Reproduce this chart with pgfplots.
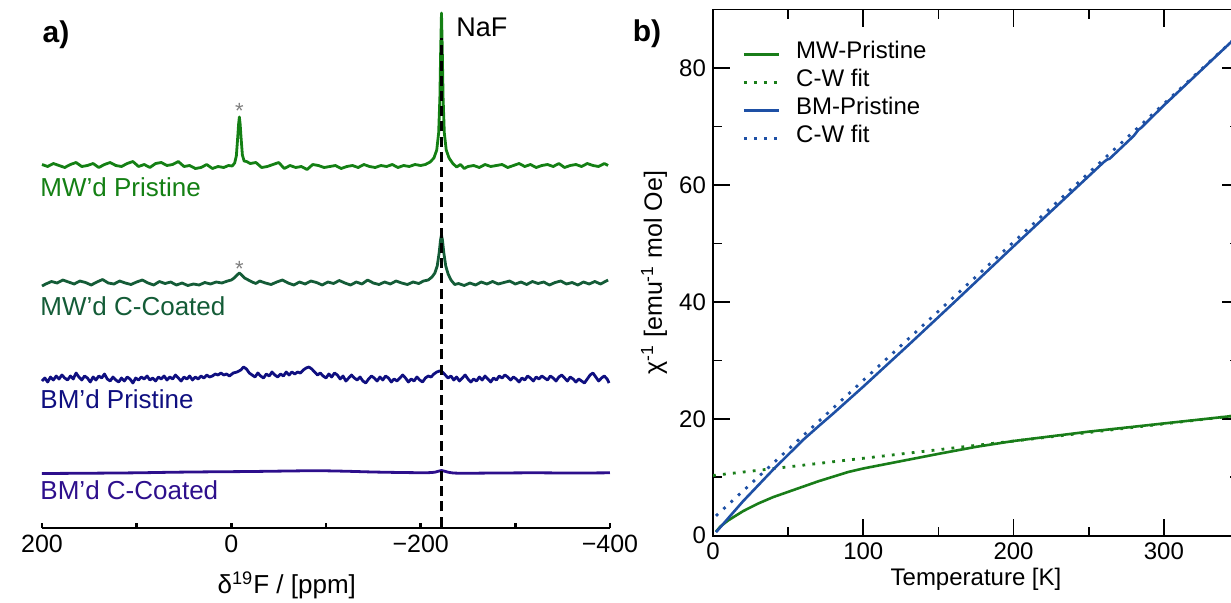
\documentclass[border=0pt]{standalone}
\usepackage{fontspec}
\setmainfont{Liberation Sans}
\usepackage{pgfplots}
\pgfplotsset{compat=1.18}
\definecolor{gA}{RGB}{20,128,20}
\definecolor{gB}{RGB}{20,92,55}
\definecolor{nA}{RGB}{15,15,128}
\definecolor{nB}{RGB}{45,15,140}
\definecolor{gr}{RGB}{25,125,25}
\definecolor{bl}{RGB}{30,80,165}
\begin{document}
\begin{tikzpicture}[x=1pt,y=1pt]
\path[use as bounding box] (0,0) rectangle (615.5,301);
\node[font=\fontsize{15}{17}\selectfont\bfseries] at (28,283.5) {a)};
\node[font=\fontsize{15}{17}\selectfont\bfseries] at (323.5,284) {b)};
% ---------------- panel a
\begin{axis}[at={(21pt,37pt)}, anchor=south west, scale only axis,
  width=284pt, height=264pt,
  xmin=-400, xmax=200, x dir=reverse, ymin=0, ymax=528,
  axis x line=bottom, axis y line=none,
  x axis line style={-, line width=1.2pt},
  xtick={200,100,0,-100,-200,-300,-400},
  xticklabels={200,{},0,{},−200,{},−400},
  tick align=inside, major tick length=2.4pt,
  every tick/.style={black, line width=1.2pt},
  tick label style={font=\fontsize{12.5}{14}\selectfont},
  xlabel={δ\textsuperscript{19}F / [ppm]},
  xlabel style={at={(axis description cs:0.431,-0.108)}, anchor=center, font=\fontsize{13}{15}\selectfont},
  clip=false]
\addplot[gA, line width=1.4pt, line join=round] coordinates {
(200,363.5) (194,361.5) (188,364.5) (182,362.5) (176,360.5) (170,363.5) (164,365.5) (158,361.5) (152,362.5) (146,364.5) (140,360.5) (134,363.5) (128,365.5) (122,362.5) (116,361.5) (110,364.5) (104,366.5) (98,361.5) (92,363.5) (86,360.5) (80,364.5) (74,365.5) (68,362.5) (62,363.5) (56,366.5) (50,361.5) (44,362.5) (38,359.5) (32,360.5) (26,363.5) (20,359.5) (14,361.5) (8,360.5) (3,362.5)
(-1,362) (-3.5,365) (-5.3,372) (-6.7,390) (-7.7,404) (-8.5,411) (-9.3,404) (-10.3,390) (-11.7,373) (-13.5,367) (-16,366.5)
(-20,364.5) (-26,365.5) (-32,360.5) (-38,361.5) (-44,363.5) (-50,365.5) (-56,359.5) (-62,362.5) (-68,360.5) (-74,361.5) (-80,358.5) (-86,363.5) (-92,362.5) (-98,360.5) (-104,361.5) (-110,362.5) (-116,359.5) (-122,361.5) (-128,362.5) (-134,360.5) (-140,363.5) (-146,361.5) (-152,360.5) (-158,362.5) (-164,361.5) (-170,363.5) (-176,360.5) (-182,362.5) (-188,361.5) (-194,363.5) (-200,362.5) (-205,363.5) (-210,366) (-214,370) (-217,378) (-219,395) (-220.3,430) (-221.2,480) (-222,515) (-222.8,480) (-223.7,430) (-225,395) (-227,378) (-230,370) (-234,364.5) (-238,361) (-242,363.5) (-246,359.5) (-250,361.5) (-256,362.5) (-262,360.5) (-268,363.5) (-274,361.5) (-280,362.5) (-286,363.5) (-292,360.5) (-298,362.5) (-304,364.5) (-310,361.5) (-316,363.5) (-322,360.5) (-328,362.5) (-334,363.5) (-340,361.5) (-346,364.5) (-352,360.5) (-358,362.5) (-364,363.5) (-370,361.5) (-376,364.5) (-382,362.5) (-388,361.5) (-394,364.5) (-398,362.5)};
\addplot[gB, line width=1.4pt, line join=round] coordinates {
(200,242) (196,244) (190,246.5) (184,245) (178,248) (172,246) (166,244) (160,247) (154,245.5) (148,243) (142,246) (136,248.5) (130,245) (124,244) (118,247) (112,245) (106,243.5) (100,246) (94,248) (88,245) (82,243) (76,246.5) (70,244.5) (64,246) (58,243) (52,245) (46,242.5) (40,244) (34,243) (28,245.5) (22,244) (16,246) (10,245) (4,247) (0,248) (-3,250) (-6,253) (-8.5,255) (-11,253) (-14,250) (-18,248) (-22,246) (-26,244.5) (-30,247) (-36,245) (-42,243.5) (-48,246) (-54,248) (-60,245) (-66,243) (-72,246) (-78,244) (-84,247) (-90,245.5) (-96,243) (-102,246) (-108,244.5) (-114,247.5) (-120,245) (-126,243) (-132,246) (-138,244) (-144,248) (-150,245) (-156,243.5) (-162,246) (-168,244) (-174,247) (-180,245) (-186,243.5) (-192,246) (-198,244.5) (-203,247) (-208,248) (-212,251) (-215,255) (-217.5,262) (-219.5,275) (-221,288) (-222,293) (-223,288) (-224.5,275) (-226.5,262) (-229,254) (-232,248) (-236,243.5) (-240,244.5) (-246,242.5) (-252,245) (-258,243) (-264,246) (-270,244) (-276,246.5) (-282,244) (-288,245.5) (-294,247) (-300,244) (-306,246) (-312,243.5) (-318,246.5) (-324,244.5) (-330,246) (-336,243) (-342,245.5) (-348,247) (-354,244) (-360,245.5) (-366,243) (-372,246) (-378,244) (-384,246.5) (-390,244) (-394,246) (-398,248)};
\addplot[nA, line width=1.4pt, line join=round] coordinates {
(200,147) (197,150) (194,146) (191,151) (188,148) (185,152) (182,149) (179,153) (176,150) (173,148) (170,152) (167,149) (164,155) (161,151) (158,148) (155,152) (152,150) (149,146) (146,151) (143,148) (140,152) (137,150) (134,154) (131,149) (128,147) (125,151) (122,148) (119,146) (116,150) (113,147) (110,151) (107,149) (104,145) (101,150) (98,148) (95,151) (92,149) (89,152) (86,148) (83,150) (80,147) (77,151) (74,149) (71,152) (68,148) (65,151) (62,149) (59,153) (56,150) (53,147) (50,151) (47,149) (44,152) (41,148) (38,151) (35,149) (32,152) (29,150) (26,153) (23,151) (20,152) (17,154) (14,153) (11,155) (8,153) (5,154) (2,152) (-2,155) (-6,156) (-10,158) (-13,161) (-16,159) (-19,155) (-22,153) (-25,151) (-28,155) (-31,152) (-34,150) (-37,154) (-40,152) (-43,156) (-46,153) (-49,151) (-52,154) (-55,152) (-58,156) (-61,153) (-64,156) (-67,154) (-70,156) (-73,155) (-76,158) (-79,160) (-82,161) (-85,159) (-88,156) (-91,153) (-94,155) (-97,152) (-100,150) (-103,154) (-106,151) (-109,155) (-112,153) (-115,149) (-118,152) (-121,147) (-124,150) (-127,153) (-130,150) (-133,148) (-136,151) (-139,147) (-142,145) (-145,149) (-148,152) (-151,150) (-154,147) (-157,151) (-160,148) (-163,152) (-166,150) (-169,146) (-172,149) (-175,147) (-178,150) (-181,153) (-184,150) (-187,146) (-190,149) (-193,147) (-196,151) (-199,148) (-202,146) (-205,150) (-208,152) (-211,151) (-214,154) (-217,156) (-220,157) (-223,156) (-226,153) (-229,150) (-232,152) (-235,148) (-238,151) (-241,147) (-244,150) (-247,153) (-250,149) (-253,146) (-256,149) (-259,147) (-262,151) (-265,148) (-268,152) (-271,149) (-274,146) (-277,150) (-280,148) (-283,152) (-286,150) (-289,153) (-292,151) (-295,148) (-298,151) (-301,149) (-304,146) (-307,150) (-310,148) (-313,152) (-316,150) (-319,147) (-322,151) (-325,149) (-328,152) (-331,150) (-334,148) (-337,152) (-340,150) (-343,147) (-346,151) (-349,153) (-352,150) (-355,147) (-358,151) (-361,149) (-364,146) (-367,149) (-370,147) (-373,145) (-376,149) (-379,153) (-382,155) (-385,151) (-388,147) (-391,150) (-394,152) (-397,149) (-399,145)};
\addplot[nB, line width=1.4pt, smooth] coordinates {
(200,54.5) (150,54.8) (100,55.2) (60,55.8) (20,56.2) (-20,56.5) (-60,57) (-90,57.3) (-120,56.8) (-150,56) (-180,55.5) (-205,55.3) (-215,55.8) (-222,57.5) (-229,55.8) (-240,54.8) (-280,55) (-320,55.2) (-360,55) (-400,55.2)};
\addplot[black, line width=1.5pt, dash pattern=on 5pt off 2.6pt] coordinates {(-221.8,1.5) (-221.8,490)};
\node[anchor=base west, inner sep=0pt, text=gA, font=\fontsize{13}{15}\selectfont] at (axis cs:202,331.3) {MW’d Pristine};
\node[anchor=base west, inner sep=0pt, text=gB, font=\fontsize{13}{15}\selectfont] at (axis cs:202,213) {MW’d C-Coated};
\node[anchor=base west, inner sep=0pt, text=nA, font=\fontsize{13}{15}\selectfont] at (axis cs:202,120) {BM’d Pristine};
\node[anchor=base west, inner sep=0pt, text=nB, font=\fontsize{13}{15}\selectfont] at (axis cs:202,29) {BM’d C-Coated};
\node[anchor=base west, inner sep=0pt, font=\fontsize{13.5}{15}\selectfont] at (axis cs:-237.2,491.3) {NaF};
\node[anchor=base, inner sep=0pt, text=gray, font=\fontsize{11}{12}\selectfont] at (axis cs:-8.5,410) {*};
\node[anchor=base, inner sep=0pt, text=gray, font=\fontsize{11}{12}\selectfont] at (axis cs:-8.5,252) {*};
\end{axis}
% ---------------- panel b
\begin{axis}[at={(356.5pt,33.15pt)}, anchor=south west, scale only axis,
  width=263pt, height=263.1pt,
  xmin=0, xmax=350, ymin=0, ymax=90,
  xtick={0,100,200,300}, ytick={0,20,40,60,80},
  minor x tick num=1, minor y tick num=1,
  tick align=inside, xtick pos=both, ytick pos=both,
  xticklabel pos=lower, yticklabel pos=lower,
  major tick length=8.5pt, minor tick length=4.5pt,
  axis line style={line width=0.8pt},
  every tick/.style={black, line width=0.8pt},
  /pgf/number format/assume math mode=true,
  tick label style={font=\fontsize{12}{14}\selectfont},
  xlabel={Temperature [K]},
  xlabel style={at={(axis description cs:0.5,-0.0836)}, anchor=center, font=\fontsize{12}{14}\selectfont},
  ylabel={χ\textsuperscript{-1} [emu\textsuperscript{-1} mol Oe]},
  ylabel style={at={(axis description cs:-0.112,0.5)}, anchor=center, font=\fontsize{12.5}{14}\selectfont},
  legend style={at={(axis cs:19.3,84.8)}, anchor=north west, draw=none, fill=none, inner sep=0pt,
    font=\fontsize{12}{14}\selectfont,
    nodes={inner sep=1pt, text height=8pt, text depth=4pt},
    /tikz/every odd column/.append style={column sep=7pt}},
  legend cell align=left,
  legend image code/.code={\draw[#1] (0pt,0pt) -- (17.5pt,0pt);}]
\addplot[gr, line width=1.3pt] coordinates {
(2,0.7) (5,1.6) (10,2.6) (20,4.2) (30,5.5) (40,6.6) (50,7.5) (60,8.4) (70,9.3) (80,10.1) (90,10.9) (100,11.5) (120,12.5) (150,14.0) (175,15.2) (200,16.2) (225,17.0) (250,17.8) (275,18.5) (300,19.2) (325,19.9) (350,20.6)};
\addlegendentry{MW-Pristine}
\addplot[gr, line width=1.4pt, dash pattern=on 1.4pt off 3.6pt] coordinates {(0,10.3) (350,20.6)};
\addlegendentry{C-W fit}
\addplot[bl, line width=1.3pt] coordinates {
(2,0.6) (20,5.9) (40,11.3) (60,16.4) (71,18.9) (80,20.9) (100,25.5) (130,32.6) (160,39.8) (200,49.5) (250,61.5) (260,63.9) (262,64.3) (264,64.5) (280,68.4) (283,69.4) (285,69.8) (300,73.6) (345,84.5) (350,85.7)};
\addlegendentry{BM-Pristine}
\addplot[bl, line width=1.4pt, dash pattern=on 1.4pt off 3.6pt] coordinates {(2,3.4) (350,85.7)};
\addlegendentry{C-W fit}
\end{axis}
\end{tikzpicture}
\end{document}
